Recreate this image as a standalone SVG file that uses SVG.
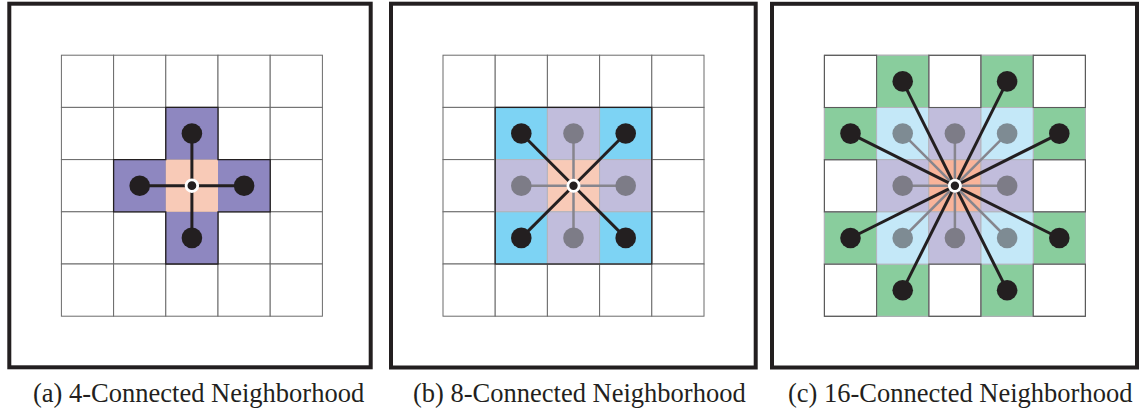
<svg xmlns="http://www.w3.org/2000/svg" width="1146" height="413" viewBox="0 0 1146 413">
<defs>
<style>
.frame{fill:none;stroke:#231f20;stroke-width:4}
.cell{fill:#fff;stroke:#6b6b6b;stroke-width:1}
.cellw{fill:none;stroke:#5a5a5a;stroke-width:1.1}
.ccol{stroke:#b4b4bc;stroke-width:1}
.outline{fill:none;stroke:#231f20;stroke-width:1.3}
.purple{fill:#8e87c0}
.peach{fill:#f8cab7}
.orange{fill:#f8b49a}
.blue{fill:#7dd3f4}
.lblue{fill:#c4e8f8}
.lav{fill:#c1bddc}
.green{fill:#89cd9d}
.blk{stroke:#231f20;stroke-width:3;fill:none}
.gry{stroke:#86858d;stroke-width:2.5;fill:none}
.dot{fill:#231f20}
.gdot{fill:#7d7c87}
.bdot{fill:#7e8b93}
.ctr{fill:#231f20;stroke:#fff;stroke-width:2.8}
.lbl{font-family:"Liberation Serif","Times New Roman",serif;font-size:26.5px;fill:#231f20}
</style>
<g id="grid5">
<rect class="cell" x="0" y="0" width="52.2" height="52.2"/><rect class="cell" x="52.2" y="0" width="52.2" height="52.2"/><rect class="cell" x="104.4" y="0" width="52.2" height="52.2"/><rect class="cell" x="156.6" y="0" width="52.2" height="52.2"/><rect class="cell" x="208.8" y="0" width="52.2" height="52.2"/>
<rect class="cell" x="0" y="52.2" width="52.2" height="52.2"/><rect class="cell" x="52.2" y="52.2" width="52.2" height="52.2"/><rect class="cell" x="104.4" y="52.2" width="52.2" height="52.2"/><rect class="cell" x="156.6" y="52.2" width="52.2" height="52.2"/><rect class="cell" x="208.8" y="52.2" width="52.2" height="52.2"/>
<rect class="cell" x="0" y="104.4" width="52.2" height="52.2"/><rect class="cell" x="52.2" y="104.4" width="52.2" height="52.2"/><rect class="cell" x="104.4" y="104.4" width="52.2" height="52.2"/><rect class="cell" x="156.6" y="104.4" width="52.2" height="52.2"/><rect class="cell" x="208.8" y="104.4" width="52.2" height="52.2"/>
<rect class="cell" x="0" y="156.6" width="52.2" height="52.2"/><rect class="cell" x="52.2" y="156.6" width="52.2" height="52.2"/><rect class="cell" x="104.4" y="156.6" width="52.2" height="52.2"/><rect class="cell" x="156.6" y="156.6" width="52.2" height="52.2"/><rect class="cell" x="208.8" y="156.6" width="52.2" height="52.2"/>
<rect class="cell" x="0" y="208.8" width="52.2" height="52.2"/><rect class="cell" x="52.2" y="208.8" width="52.2" height="52.2"/><rect class="cell" x="104.4" y="208.8" width="52.2" height="52.2"/><rect class="cell" x="156.6" y="208.8" width="52.2" height="52.2"/><rect class="cell" x="208.8" y="208.8" width="52.2" height="52.2"/>
</g>
</defs>

<!-- Panel (a) -->
<g id="panel-a">
<rect class="frame" x="9.3" y="3.7" width="361.4" height="363.6"/>
<g transform="translate(61.4,55.2)">
<use href="#grid5"/>
<g id="a-cells">
<rect class="purple" x="104.4" y="52.2" width="52.2" height="52.2"/>
<rect class="purple" x="52.2" y="104.4" width="52.2" height="52.2"/>
<rect class="purple" x="156.6" y="104.4" width="52.2" height="52.2"/>
<rect class="purple" x="104.4" y="156.6" width="52.2" height="52.2"/>
<rect class="peach" x="104.4" y="104.4" width="52.2" height="52.2"/>
<path class="outline" d="M104.4,52.2H156.6V104.4H208.8V156.6H156.6V208.8H104.4V156.6H52.2V104.4H104.4Z"/>
</g>
<g id="a-connectors">
<line class="blk" x1="130.5" y1="130.5" x2="130.5" y2="78.3"/>
<line class="blk" x1="130.5" y1="130.5" x2="78.3" y2="130.5"/>
<line class="blk" x1="130.5" y1="130.5" x2="182.7" y2="130.5"/>
<line class="blk" x1="130.5" y1="130.5" x2="130.5" y2="182.7"/>
</g>
<g id="a-n-top"><circle class="dot" cx="130.5" cy="78.3" r="10.3"/></g>
<g id="a-n-left"><circle class="dot" cx="78.3" cy="130.5" r="10.3"/></g>
<g id="a-n-right"><circle class="dot" cx="182.7" cy="130.5" r="10.3"/></g>
<g id="a-n-bottom"><circle class="dot" cx="130.5" cy="182.7" r="10.3"/></g>
<g id="a-n-center"><circle class="ctr" cx="130.5" cy="130.5" r="5.8"/></g>
</g>
<text class="lbl" x="33" y="401.5">(a) 4-Connected Neighborhood</text>
</g>

<!-- Panel (b) -->
<g id="panel-b">
<rect class="frame" x="391" y="3.7" width="364.7" height="363.8"/>
<g transform="translate(443,55.2)">
<use href="#grid5"/>
<g id="b-cells">
<rect class="blue ccol" x="52.2" y="52.2" width="52.2" height="52.2"/>
<rect class="lav ccol" x="104.4" y="52.2" width="52.2" height="52.2"/>
<rect class="blue ccol" x="156.6" y="52.2" width="52.2" height="52.2"/>
<rect class="lav ccol" x="52.2" y="104.4" width="52.2" height="52.2"/>
<rect class="peach ccol" x="104.4" y="104.4" width="52.2" height="52.2"/>
<rect class="lav ccol" x="156.6" y="104.4" width="52.2" height="52.2"/>
<rect class="blue ccol" x="52.2" y="156.6" width="52.2" height="52.2"/>
<rect class="lav ccol" x="104.4" y="156.6" width="52.2" height="52.2"/>
<rect class="blue ccol" x="156.6" y="156.6" width="52.2" height="52.2"/>
<rect class="outline" x="52.2" y="52.2" width="156.6" height="156.6"/>
</g>
<g id="b-connectors">
<line class="gry" x1="130.5" y1="130.5" x2="130.5" y2="78.3"/>
<line class="gry" x1="130.5" y1="130.5" x2="78.3" y2="130.5"/>
<line class="gry" x1="130.5" y1="130.5" x2="182.7" y2="130.5"/>
<line class="gry" x1="130.5" y1="130.5" x2="130.5" y2="182.7"/>
<line class="blk" x1="130.5" y1="130.5" x2="78.3" y2="78.3"/>
<line class="blk" x1="130.5" y1="130.5" x2="182.7" y2="78.3"/>
<line class="blk" x1="130.5" y1="130.5" x2="78.3" y2="182.7"/>
<line class="blk" x1="130.5" y1="130.5" x2="182.7" y2="182.7"/>
</g>
<g id="b-n-n"><circle class="gdot" cx="130.5" cy="78.3" r="10.3"/></g>
<g id="b-n-w"><circle class="gdot" cx="78.3" cy="130.5" r="10.3"/></g>
<g id="b-n-e"><circle class="gdot" cx="182.7" cy="130.5" r="10.3"/></g>
<g id="b-n-s"><circle class="gdot" cx="130.5" cy="182.7" r="10.3"/></g>
<g id="b-n-nw"><circle class="dot" cx="78.3" cy="78.3" r="10.3"/></g>
<g id="b-n-ne"><circle class="dot" cx="182.7" cy="78.3" r="10.3"/></g>
<g id="b-n-sw"><circle class="dot" cx="78.3" cy="182.7" r="10.3"/></g>
<g id="b-n-se"><circle class="dot" cx="182.7" cy="182.7" r="10.3"/></g>
<g id="b-n-center"><circle class="ctr" cx="130.5" cy="130.5" r="5.6"/></g>
</g>
<text class="lbl" x="413" y="401.5">(b) 8-Connected Neighborhood</text>
</g>

<!-- Panel (c) -->
<g id="panel-c">
<rect class="frame" x="772" y="3.8" width="365" height="363.7"/>
<g transform="translate(824.4,55.3)">
<use href="#grid5"/>
<g id="c-cells">
<rect class="green ccol" x="52.2" y="0" width="52.2" height="52.2"/>
<rect class="green ccol" x="156.6" y="0" width="52.2" height="52.2"/>
<rect class="green ccol" x="0" y="52.2" width="52.2" height="52.2"/>
<rect class="green ccol" x="208.8" y="52.2" width="52.2" height="52.2"/>
<rect class="green ccol" x="0" y="156.6" width="52.2" height="52.2"/>
<rect class="green ccol" x="208.8" y="156.6" width="52.2" height="52.2"/>
<rect class="green ccol" x="52.2" y="208.8" width="52.2" height="52.2"/>
<rect class="green ccol" x="156.6" y="208.8" width="52.2" height="52.2"/>
<rect class="lblue ccol" x="52.2" y="52.2" width="52.2" height="52.2"/>
<rect class="lav ccol" x="104.4" y="52.2" width="52.2" height="52.2"/>
<rect class="lblue ccol" x="156.6" y="52.2" width="52.2" height="52.2"/>
<rect class="lav ccol" x="52.2" y="104.4" width="52.2" height="52.2"/>
<rect class="orange ccol" x="104.4" y="104.4" width="52.2" height="52.2"/>
<rect class="lav ccol" x="156.6" y="104.4" width="52.2" height="52.2"/>
<rect class="lblue ccol" x="52.2" y="156.6" width="52.2" height="52.2"/>
<rect class="lav ccol" x="104.4" y="156.6" width="52.2" height="52.2"/>
<rect class="lblue ccol" x="156.6" y="156.6" width="52.2" height="52.2"/>
<rect class="cellw" x="0" y="0" width="52.2" height="52.2"/>
<rect class="cellw" x="104.4" y="0" width="52.2" height="52.2"/>
<rect class="cellw" x="208.8" y="0" width="52.2" height="52.2"/>
<rect class="cellw" x="0" y="104.4" width="52.2" height="52.2"/>
<rect class="cellw" x="208.8" y="104.4" width="52.2" height="52.2"/>
<rect class="cellw" x="0" y="208.8" width="52.2" height="52.2"/>
<rect class="cellw" x="104.4" y="208.8" width="52.2" height="52.2"/>
<rect class="cellw" x="208.8" y="208.8" width="52.2" height="52.2"/>
</g>
<g id="c-connectors">
<line class="gry" x1="130.5" y1="130.5" x2="78.3" y2="78.3"/>
<line class="gry" x1="130.5" y1="130.5" x2="130.5" y2="78.3"/>
<line class="gry" x1="130.5" y1="130.5" x2="182.7" y2="78.3"/>
<line class="gry" x1="130.5" y1="130.5" x2="78.3" y2="130.5"/>
<line class="gry" x1="130.5" y1="130.5" x2="182.7" y2="130.5"/>
<line class="gry" x1="130.5" y1="130.5" x2="78.3" y2="182.7"/>
<line class="gry" x1="130.5" y1="130.5" x2="130.5" y2="182.7"/>
<line class="gry" x1="130.5" y1="130.5" x2="182.7" y2="182.7"/>
<line class="blk" x1="130.5" y1="130.5" x2="78.3" y2="26.1"/>
<line class="blk" x1="130.5" y1="130.5" x2="182.7" y2="26.1"/>
<line class="blk" x1="130.5" y1="130.5" x2="26.1" y2="78.3"/>
<line class="blk" x1="130.5" y1="130.5" x2="234.9" y2="78.3"/>
<line class="blk" x1="130.5" y1="130.5" x2="26.1" y2="182.7"/>
<line class="blk" x1="130.5" y1="130.5" x2="234.9" y2="182.7"/>
<line class="blk" x1="130.5" y1="130.5" x2="78.3" y2="234.9"/>
<line class="blk" x1="130.5" y1="130.5" x2="182.7" y2="234.9"/>
</g>
<g id="c-n-i1"><circle class="bdot" cx="78.3" cy="78.3" r="10.3"/></g>
<g id="c-n-i2"><circle class="gdot" cx="130.5" cy="78.3" r="10.3"/></g>
<g id="c-n-i3"><circle class="bdot" cx="182.7" cy="78.3" r="10.3"/></g>
<g id="c-n-i4"><circle class="gdot" cx="78.3" cy="130.5" r="10.3"/></g>
<g id="c-n-i5"><circle class="gdot" cx="182.7" cy="130.5" r="10.3"/></g>
<g id="c-n-i6"><circle class="bdot" cx="78.3" cy="182.7" r="10.3"/></g>
<g id="c-n-i7"><circle class="gdot" cx="130.5" cy="182.7" r="10.3"/></g>
<g id="c-n-i8"><circle class="bdot" cx="182.7" cy="182.7" r="10.3"/></g>
<g id="c-n-o1"><circle class="dot" cx="78.3" cy="26.1" r="10.3"/></g>
<g id="c-n-o2"><circle class="dot" cx="182.7" cy="26.1" r="10.3"/></g>
<g id="c-n-o3"><circle class="dot" cx="26.1" cy="78.3" r="10.3"/></g>
<g id="c-n-o4"><circle class="dot" cx="234.9" cy="78.3" r="10.3"/></g>
<g id="c-n-o5"><circle class="dot" cx="26.1" cy="182.7" r="10.3"/></g>
<g id="c-n-o6"><circle class="dot" cx="234.9" cy="182.7" r="10.3"/></g>
<g id="c-n-o7"><circle class="dot" cx="78.3" cy="234.9" r="10.3"/></g>
<g id="c-n-o8"><circle class="dot" cx="182.7" cy="234.9" r="10.3"/></g>
<g id="c-n-center"><circle class="ctr" cx="130.5" cy="130.5" r="5.6"/></g>
</g>
<text class="lbl" x="788" y="401.5">(c) 16-Connected Neighborhood</text>
</g>
</svg>
